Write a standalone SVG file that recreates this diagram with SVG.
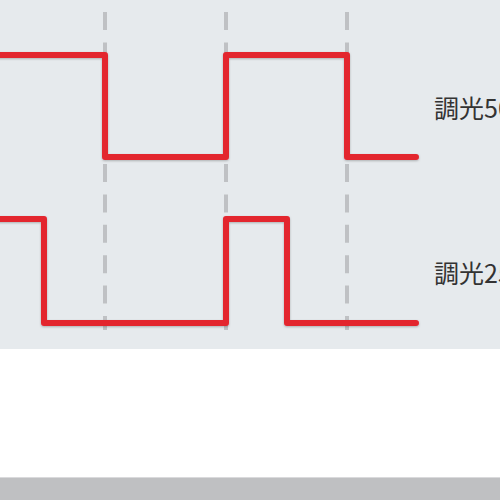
<svg xmlns="http://www.w3.org/2000/svg" width="500" height="500" viewBox="0 0 500 500">
  <defs>
    <style>
      .grid { stroke: #bfc1c4; stroke-width: 4; stroke-dasharray: 18 12.4; fill: none; }
      .wave { stroke: #e3262f; stroke-width: 6; fill: none; stroke-linejoin: round; stroke-linecap: round; filter: url(#sh); }
      .label { font-family: "Noto Sans CJK JP", "Noto Sans CJK SC", sans-serif; font-size: 25px; fill: #333333; }
    </style>
    <filter id="sh" x="-10%" y="-10%" width="120%" height="130%">
      <feDropShadow dx="0" dy="1" stdDeviation="1.2" flood-color="#000000" flood-opacity="0.25"/>
    </filter>
  </defs>
  <rect x="0" y="0" width="500" height="349" fill="#e6eaed"/>
  <rect x="0" y="349" width="500" height="128" fill="#ffffff"/>
  <rect x="0" y="477" width="500" height="1" fill="#dadadc"/>
  <rect x="0" y="478" width="500" height="22" fill="#bfc0c2"/>
  <g id="gridlines">
    <line class="grid" x1="105" y1="12" x2="105" y2="330"/>
    <line class="grid" x1="226" y1="12" x2="226" y2="330"/>
    <line class="grid" x1="347" y1="12" x2="347" y2="330"/>
  </g>
  <g id="wave50">
    <path class="wave" d="M-10,55 H105 V157 H226 V55 H347 V157 H416"/>
    <text class="label" x="434" y="118">調光50%</text>
  </g>
  <g id="wave25">
    <path class="wave" d="M-10,219 H44 V323 H226 V219 H287 V323 H416"/>
    <text class="label" x="434" y="283">調光25%</text>
  </g>
</svg>
